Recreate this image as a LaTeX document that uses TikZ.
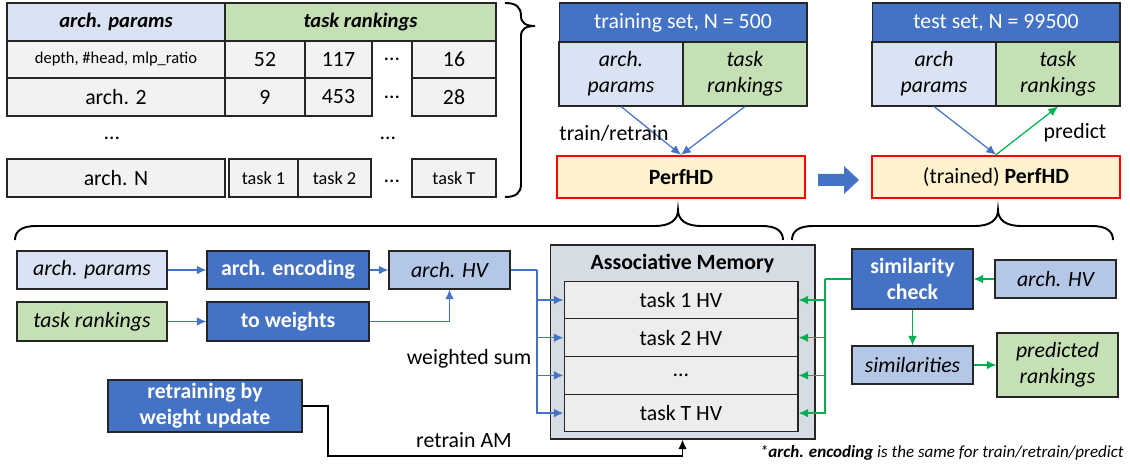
\documentclass[tikz,border=0pt]{standalone}
\usepackage{fontspec}
\setmainfont{Carlito}
\usetikzlibrary{arrows.meta, calc}
\definecolor{hdblue}{HTML}{4472C4}
\definecolor{paleblue}{HTML}{DAE3F3}
\definecolor{midblue}{HTML}{B4C7E7}
\definecolor{palegreen}{HTML}{C5E0B4}
\definecolor{cellgray}{HTML}{F2F2F2}
\definecolor{hvgray}{HTML}{EDEDED}
\definecolor{amgray}{HTML}{D6DCE4}
\definecolor{cream}{HTML}{FFF2CC}
\definecolor{arrgreen}{HTML}{00B050}
\definecolor{edge}{HTML}{262626}
\newcommand{\fnt}{\fontsize{12.4}{15}\selectfont}
\newcommand{\fntsm}{\fontsize{10.4}{12}\selectfont}
\tikzset{
  cellbox/.style={draw=edge, line width=0.6pt, fill=cellgray, inner sep=0pt,
    minimum height=0.76cm, font=\fnt, align=center},
  darkbox/.style={cellbox, fill=hdblue, text=white, font=\fnt\bfseries},
  lightbox/.style={cellbox, fill=paleblue, font=\fnt\itshape},
  hvbox/.style={cellbox, fill=midblue, font=\fnt\itshape},
  rankbox/.style={cellbox, fill=palegreen, font=\fnt\itshape},
  perfbox/.style={cellbox, draw=red, line width=1.4pt, fill=cream, minimum height=0.84cm},
  flow/.style={->, hdblue, line width=0.9pt},
  gflow/.style={->, arrgreen, line width=0.9pt},
  brace/.style={black, line width=1.1pt},
  lbl/.style={font=\fnt, inner sep=1pt}
}

\begin{document}
\begin{tikzpicture}[x=0.02cm, y=-0.02cm, >={Latex[length=5.5pt, width=5pt]}]
\useasboundingbox (0,0) rectangle (1130,465);

% --- dataset table (top left) ---
\node[cellbox, fill=paleblue, minimum width=4.36cm, font=\fontsize{11.7}{14}\selectfont\bfseries\itshape] (tAP) at (116,22) {arch. params};
\node[cellbox, fill=palegreen, minimum width=5.42cm, font=\fontsize{11.7}{14}\selectfont\bfseries\itshape] (tTR) at (360.5,22) {task rankings};

\node[cellbox, minimum width=4.36cm, minimum height=0.74cm, font=\fontsize{9.4}{11}\selectfont] (r1a) at (116,59.5) {depth, \#head, mlp\_ratio};
\node[cellbox, minimum width=1.6cm, minimum height=0.74cm] (r1b) at (265,59.5) {52};
\node[cellbox, minimum width=1.34cm, minimum height=0.74cm] (r1c) at (338.5,59.5) {117};
\node[lbl] (r1d) at (392,59.5) {…};
\node[cellbox, minimum width=1.68cm, minimum height=0.74cm] (r1e) at (454,59.5) {16};

\node[cellbox, minimum width=4.36cm] (r2a) at (116,97) {arch. 2};
\node[cellbox, minimum width=1.6cm] (r2b) at (265,97) {9};
\node[cellbox, minimum width=1.34cm] (r2c) at (338.5,97) {453};
\node[lbl] (r2d) at (392,97) {…};
\node[cellbox, minimum width=1.68cm] (r2e) at (454,97) {28};

\node[lbl] (rdA) at (112,138) {…};
\node[lbl] (rdB) at (388,138) {…};

\node[cellbox, minimum width=4.36cm] (rNa) at (116,178) {arch. N};
\node[cellbox, minimum width=1.38cm, font=\fntsm] (rNb) at (263.5,178) {task 1};
\node[cellbox, minimum width=1.46cm, font=\fntsm] (rNc) at (334.5,178) {task 2};
\node[lbl] (rNd) at (392,181) {…};
\node[cellbox, minimum width=1.68cm, font=\fntsm] (rNe) at (454,178) {task T};

% brace grouping the table
\draw[brace] (505,3) .. controls (516,3) and (521,7) .. (521,16)
  .. controls (521,23) and (526,26) .. (535,26)
  .. controls (526,26) and (521,29) .. (521,36)
  -- (521,184) .. controls (521,193) and (516,197) .. (505,197);

% --- training set / test set ---
\node[darkbox, minimum width=4.96cm, minimum height=0.78cm, font=\fnt] (trHead) at (683,22.5) {training set, N = 500};
\node[lightbox, minimum width=2.48cm, minimum height=1.28cm] (trAP) at (621,74) {arch.\\params};
\node[rankbox, minimum width=2.48cm, minimum height=1.28cm] (trTR) at (745,74) {task\\rankings};
\node[perfbox, minimum width=4.96cm] (perf) at (681,177) {\textbf{PerfHD}};

\node[darkbox, minimum width=4.96cm, minimum height=0.78cm, font=\fnt] (teHead) at (996,22.5) {test set, N = 99500};
\node[lightbox, minimum width=2.48cm, minimum height=1.28cm] (teAP) at (934,74) {arch\\params};
\node[rankbox, minimum width=2.48cm, minimum height=1.28cm] (teTR) at (1058,74) {task\\rankings};
\node[perfbox, minimum width=4.96cm] (trained) at (996,177) {(trained) \textbf{PerfHD}};

\draw[flow, line width=0.7pt] (trAP.south) -- (perf.north);
\draw[flow, line width=0.7pt] (trTR.south) -- (perf.north);
\node[lbl] (trainlbl) at (614,133) {train/retrain};

\draw[flow, line width=0.7pt] (teAP.south) -- (trained.north);
\draw[gflow, line width=0.7pt] (trained.north) -- (teTR.south);
\node[lbl] (predlbl) at (1075,133) {predict};

% block arrow between the two PerfHD boxes
\fill[hdblue] (818,174) -- (844,174) -- (844,166) -- (859,180) -- (844,194) -- (844,186) -- (818,186) -- cycle;

% --- braces over the lower part ---
\draw[brace] (15,240) .. controls (15,231) and (22,226) .. (36,226) -- (655,226)
  .. controls (670,226) and (678,220) .. (678,210)
  .. controls (678,220) and (686,226) .. (701,226) -- (762,226)
  .. controls (776,226) and (783,231) .. (783,240);
\draw[brace] (792,240) .. controls (792,231) and (799,226) .. (813,226) -- (975,226)
  .. controls (990,226) and (998,220) .. (998,210)
  .. controls (998,220) and (1006,226) .. (1021,226) -- (1092,226)
  .. controls (1106,226) and (1113,231) .. (1113,240);

% --- encoding (bottom left) ---
\node[lightbox, minimum width=3.0cm] (inAP) at (92,270) {arch. params};
\node[rankbox, minimum width=3.0cm, minimum height=0.78cm] (inTR) at (92,321.5) {task rankings};
\node[darkbox, minimum width=3.24cm] (enc) at (288,270) {arch. encoding};
\node[darkbox, minimum width=3.24cm, minimum height=0.78cm] (wts) at (288,321.5) {to weights};
\node[hvbox, minimum width=2.42cm] (hvL) at (449.5,270) {arch. HV};
\node[darkbox, minimum width=3.88cm, minimum height=1.04cm] (retr) at (205,406) {retraining by\\weight update};

\draw[flow] (inAP.east) -- (enc.west);
\draw[flow] (inTR.east) -- (wts.west);
\draw[flow] (enc.east) -- (hvL.west);
\draw[flow] (wts.east) -| (hvL.south);

% --- associative memory ---
\node[cellbox, fill=amgray, minimum width=5.3cm, minimum height=3.88cm] (am) at (682.5,342) {};
\node[font=\fnt\bfseries] (amtitle) at (682.5,264) {Associative Memory};
\foreach \i/\t in {1/task 1 HV, 2/task 2 HV, 3/…, 4/task T HV}
  \node[cellbox, fill=hvgray, minimum width=4.68cm, minimum height=0.755cm] (hv\i) at (681,{300+(\i-1)*37.7}) {\t};

\coordinate (bus) at (537,270);
\draw[hdblue, line width=0.9pt] (hvL.east) -- (bus);
\foreach \i in {1,...,4}
  \draw[flow] (bus) |- (hv\i.west);
\node[lbl] (wsum) at (469,359) {weighted sum};

\coordinate (rdn) at (328,456);
\draw[->, black, line width=1.1pt] (retr.east) -| (rdn) -| (am.south);
\node[lbl] (retrlbl) at (464,440) {retrain AM};

% --- prediction (bottom right) ---
\node[darkbox, minimum width=2.42cm, minimum height=1.2cm] (sim) at (912.5,279) {similarity\\check};
\node[hvbox, minimum width=2.42cm] (hvR) at (1055.5,279) {arch. HV};
\node[hvbox, minimum width=2.42cm] (simy) at (912.5,365) {similarities};
\node[rankbox, minimum width=2.42cm, minimum height=1.28cm] (pred) at (1057.5,365) {predicted\\rankings};

\coordinate (gbus) at (825,279);
\draw[arrgreen, line width=0.9pt] (sim.west) -- (gbus);
\foreach \i in {1,...,4}
  \draw[gflow] (gbus) |- (hv\i.east);
\draw[gflow] (hvR.west) -- (sim.east);
\draw[gflow] (sim.south) -- (simy.north);
\draw[gflow] (simy.east) -- (pred.west);

% footnote
\node[font=\fontsize{9.7}{11}\selectfont\itshape, anchor=east, inner sep=0pt] (note) at (1124,453)
  {*\textbf{arch. encoding} is the same for train/retrain/predict};

\end{tikzpicture}
\end{document}
